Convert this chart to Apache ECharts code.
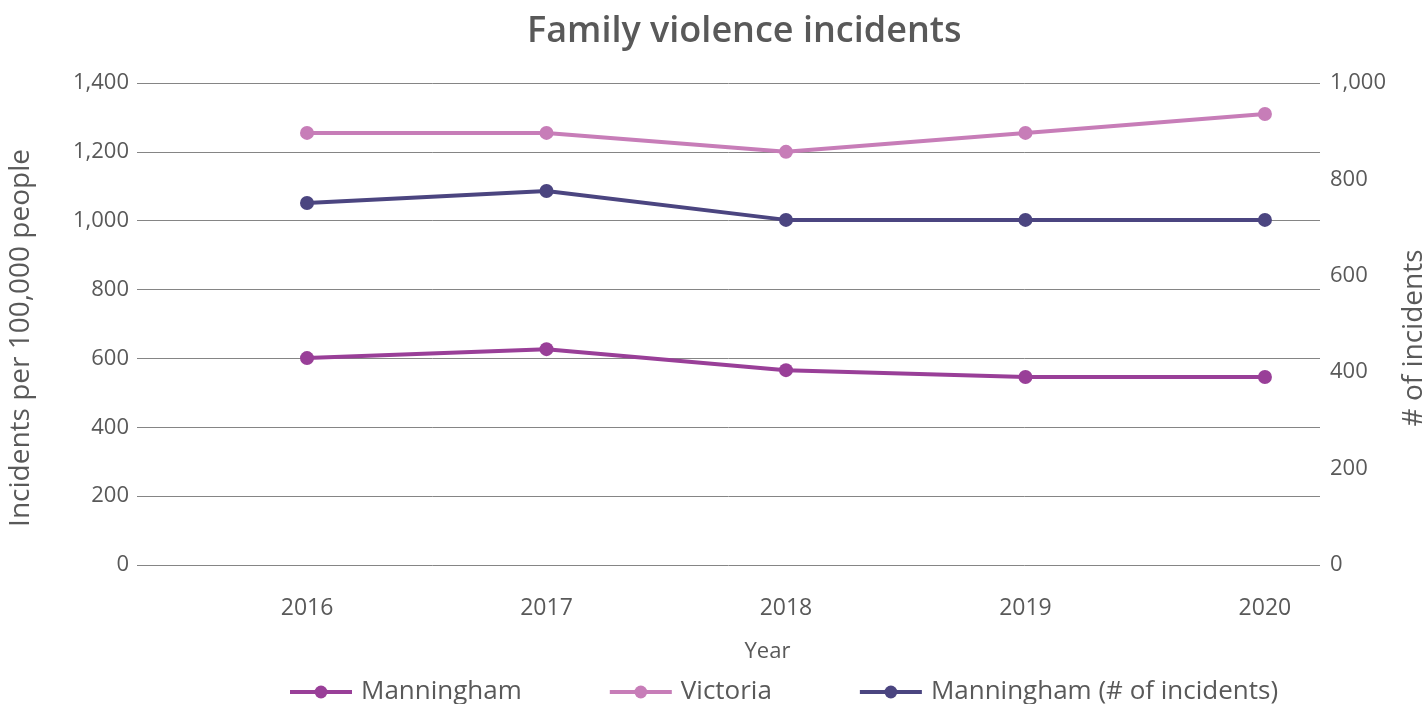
<!DOCTYPE html>
<html>
<head>
<meta charset="utf-8">
<script src="https://cdn.jsdelivr.net/npm/echarts@6/dist/echarts.min.js"></script>
<style>
  html, body { margin: 0; padding: 0; background: #fff; }
  #chart { width: 1423px; height: 704px; }
</style>
</head>
<body>
<div id="chart"></div>
<script>
// data
const years = [2016, 2017, 2018, 2019, 2020];
const manningham = [601, 627, 566, 546, 546];          // per 100,000 people
const victoria = [1255, 1255, 1200, 1255, 1310];       // per 100,000 people
const manninghamCount = [751, 776, 716, 716, 716];     // # of incidents (right axis)
const seriesNames = ["Manningham", "Victoria", "Manningham (# of incidents)"];
const colors = ["#993f98", "#c77db8", "#4b4580"];

const textColor = "#595959";
const font = "Open Sans";

const pairs = (vals) => years.map((y, i) => [y, vals[i]]);

const chart = echarts.init(document.getElementById("chart"));

chart.setOption({
  textStyle: { fontFamily: font, color: textColor },
  title: {
    text: "Family violence incidents",
    left: 522,
    top: 9,
    textStyle: { fontSize: 36, fontWeight: 600, color: textColor, fontFamily: font },
  },
  grid: { left: 137, right: 103, top: 83, bottom: 139, outerBoundsMode: "none" },
  legend: {
    bottom: -6,
    left: 283,
    itemWidth: 62,
    itemHeight: 16,
    itemGap: 86,
    lineStyle: { width: 4 },
    textStyle: { fontSize: 26, color: textColor, fontFamily: font, padding: [0, 0, 0, 4] },
    data: seriesNames,
  },
  xAxis: {
    type: "value",
    min: 2015.29,
    max: 2020.23,
    name: "Year",
    nameLocation: "middle",
    nameGap: 76,
    nameTextStyle: { fontSize: 22, color: textColor, padding: [0, 0, 0, 78] },
    axisLine: { show: false },
    axisTick: { show: false },
    splitLine: { show: false },
    axisLabel: {
      customValues: years,
      fontSize: 23,
      color: textColor,
      margin: 32,
      formatter: (v) => String(v),
    },
  },
  yAxis: [
    {
      type: "value",
      min: 0,
      max: 1400,
      interval: 200,
      name: "Incidents per 100,000 people",
      nameLocation: "middle",
      nameGap: 102,
      nameTextStyle: { fontSize: 28, color: textColor, padding: [0, 28, 0, 0] },
      axisLine: { show: false },
      axisTick: { show: false },
      axisLabel: {
        fontSize: 22,
        color: textColor,
        margin: 8,
        formatter: (v) => v.toLocaleString("en-US"),
      },
      splitLine: { lineStyle: { color: "#858585", width: 1 } },
    },
    {
      type: "value",
      min: 0,
      max: 1000,
      interval: 200,
      name: "# of incidents",
      nameLocation: "middle",
      nameGap: 80,
      nameRotate: 90,
      nameTextStyle: { fontSize: 28, color: textColor, padding: [0, 28, 0, 0] },
      axisLine: { show: false },
      axisTick: { show: false },
      axisLabel: {
        fontSize: 22,
        color: textColor,
        margin: 10,
        formatter: (v) => v.toLocaleString("en-US"),
      },
      splitLine: { show: false },
    },
  ],
  series: [
    {
      name: seriesNames[0],
      type: "line",
      yAxisIndex: 0,
      data: pairs(manningham),
      symbol: "circle",
      symbolSize: 14,
      lineStyle: { width: 4, color: colors[0] },
      itemStyle: { color: colors[0] },
    },
    {
      name: seriesNames[1],
      type: "line",
      yAxisIndex: 0,
      data: pairs(victoria),
      symbol: "circle",
      symbolSize: 14,
      lineStyle: { width: 4, color: colors[1] },
      itemStyle: { color: colors[1] },
    },
    {
      name: seriesNames[2],
      type: "line",
      yAxisIndex: 1,
      data: pairs(manninghamCount),
      symbol: "circle",
      symbolSize: 14,
      lineStyle: { width: 4, color: colors[2] },
      itemStyle: { color: colors[2] },
    },
  ],
});
</script>
</body>
</html>
